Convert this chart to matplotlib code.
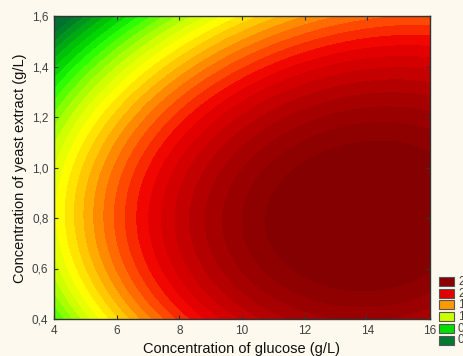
import numpy as np
import matplotlib
matplotlib.use("Agg")
import matplotlib.pyplot as plt
from matplotlib.colors import LinearSegmentedColormap
from matplotlib.patches import Rectangle

# Axis ranges and ticks
glucose_range = [4, 16]
yeast_range = [0.4, 1.6]
x_ticks = [4, 6, 8, 10, 12, 14, 16]
y_ticks = [0.4, 0.6, 0.8, 1.0, 1.2, 1.4, 1.6]
x_tick_labels = ["4", "6", "8", "10", "12", "14", "16"]
y_tick_labels = ["0,4", "0,6", "0,8", "1,0", "1,2", "1,4", "1,6"]

# Fitted response surface, coded units u=(glucose-10)/6, v=(yeast-1)/0.6,
# response expressed in contour-level units (0 = lowest level, 29 = highest)
coef_names = ["1", "u", "v", "uu", "uv", "vv", "uuu", "uuv", "uvv", "vvv"]
coef_values = [26.416, 8.937, -5.880, -6.207, 0.463, -7.847, -0.151, 0.988, 0.901, 0.871]

# Colour scale anchors (level index, colour)
scale_levels = [0, 2, 5, 7, 9, 11, 13, 15, 17, 19, 21, 23, 25, 27, 29]
scale_colors = ["#006633", "#008c20", "#00d000", "#20ff00", "#80ff00", "#ccff00",
                "#ffff00", "#ffc800", "#ff8800", "#ff4400", "#f00000", "#d00000",
                "#b00000", "#960000", "#800000"]

# Legend
legend_labels = ["2,4", "2,0", "1,6", "1,2", "0,8", "0,4"]
legend_colors = ["#8b0000", "#e00000", "#ff9900", "#ccff00", "#00e000", "#007a30"]

BG = "#fdf9ee"
fam = ["Liberation Sans", "DejaVu Sans"]

fig = plt.figure(figsize=(4.64, 3.56), dpi=100, facecolor=BG)
ax = fig.add_axes([54/464, 1-319/356, 376/464, 303/356])

xs = np.linspace(glucose_range[0], glucose_range[1], 400)
ys = np.linspace(yeast_range[0], yeast_range[1], 400)
X, Y = np.meshgrid(xs, ys)
U = (X - 10) / 6
V = (Y - 1) / 0.6
terms = [np.ones_like(U), U, V, U*U, U*V, V*V, U**3, U*U*V, U*V*V, V**3]
Z = sum(c * t for c, t in zip(coef_values, terms))

top = scale_levels[-1]
cmap = LinearSegmentedColormap.from_list(
    "stat", [(l / top, c) for l, c in zip(scale_levels, scale_colors)])
levels = np.arange(-0.5, top + 0.6, 1.0)
cs = ax.contourf(X, Y, np.clip(Z, -0.4, top + 0.4), levels=levels, cmap=cmap)
cs.set_edgecolor("face")
cs.set_linewidth(0.3)

ax.set_xlim(glucose_range)
ax.set_ylim(yeast_range)
ax.set_xticks(x_ticks)
ax.set_xticklabels(x_tick_labels)
ax.set_yticks(y_ticks)
ax.set_yticklabels(y_tick_labels)
ax.tick_params(direction="in", length=3, width=0.8, top=True, right=True,
               labelsize=8.5, labelcolor="#404040", color="#333333", pad=4)
for s in ax.spines.values():
    s.set_color("#333333")
    s.set_linewidth(1.0)
for lab in ax.get_xticklabels() + ax.get_yticklabels():
    lab.set_family(fam)

fig.text(242/464, 1-349/356, "Concentration of glucose (g/L)", ha="center", va="center",
         fontsize=10.5, family=fam, color="#111111")
fig.text(20/464, 1-168/356, "Concentration of yeast extract (g/L)", ha="center", va="center",
         rotation=90, fontsize=10.5, family=fam, color="#111111")

for i, (lab, col) in enumerate(zip(legend_labels, legend_colors)):
    ytop = 277 + i * 11.7
    fig.patches.append(Rectangle((439/464, 1-(ytop+9)/356), 15/464, 9/356,
                                 transform=fig.transFigure, facecolor=col,
                                 edgecolor="#555555", linewidth=0.8))
    fig.text(458/464, 1-(ytop+4.5)/356, lab, ha="left", va="center",
             fontsize=8.5, family=fam, color="#404040")

fig.savefig("out.png", dpi=100, facecolor=BG)
